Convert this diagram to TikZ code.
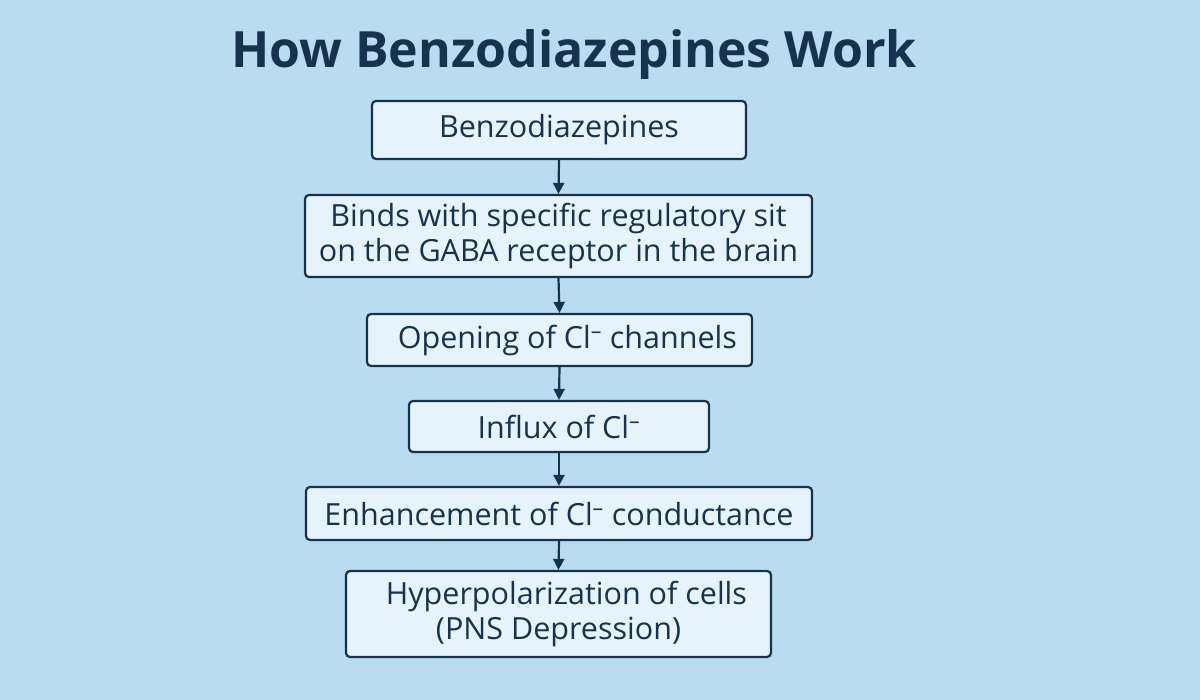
\documentclass[tikz,border=0pt]{standalone}
\usepackage{fontspec}
\setmainfont{Open Sans}
\definecolor{bg}{HTML}{B9DCF0}
\definecolor{navy}{HTML}{16324F}
\definecolor{boxfill}{HTML}{E6F3FB}
\newcommand{\Clm}{Cl\textsuperscript{–}}
\usetikzlibrary{arrows.meta}
\begin{document}
\begin{tikzpicture}[x=1pt,y=-1pt,
  stepbox/.style={draw=navy,line width=2.2pt,fill=boxfill,rounded corners=4pt,inner sep=0pt,
    text=navy,font=\fontsize{30.5}{35}\selectfont,align=center},
  arr/.style={-{Triangle[length=11pt,width=11pt]},draw=navy,line width=2.2pt}]
\fill[bg] (0,0) rectangle (1200,700);
\useasboundingbox (0,0) rectangle (1200,700);
\node[text=navy,font=\bfseries\fontsize{50}{56}\selectfont] (t) at (574,55) {How Benzodiazepines Work};
\node[stepbox,minimum width=374pt,minimum height=58pt] (b1) at (559,130) {Benzodiazepines};
\node[stepbox,minimum width=507pt,minimum height=82pt] (b2) at (558.5,236) {Binds with specific regulatory sit\\on the GABA receptor in the brain};
\node[stepbox,minimum width=385pt,minimum height=52pt] (b3) at (559.5,340) {\ \ Opening of \Clm{} channels};
\node[stepbox,minimum width=300pt,minimum height=51pt] (b4) at (559,426.5) {Influx of \Clm};
\node[stepbox,minimum width=506pt,minimum height=53pt] (b5) at (559,513.5) {Enhancement of \Clm{} conductance};
\node[stepbox,minimum width=425pt,minimum height=86pt] (b6) at (558.5,614) {\ \ Hyperpolarization of cells\\(PNS Depression)};
\foreach \a/\b in {b1/b2,b2/b3,b3/b4,b4/b5,b5/b6}
  \draw[arr] (\a.south) -- (\b.north);
\end{tikzpicture}
\end{document}
